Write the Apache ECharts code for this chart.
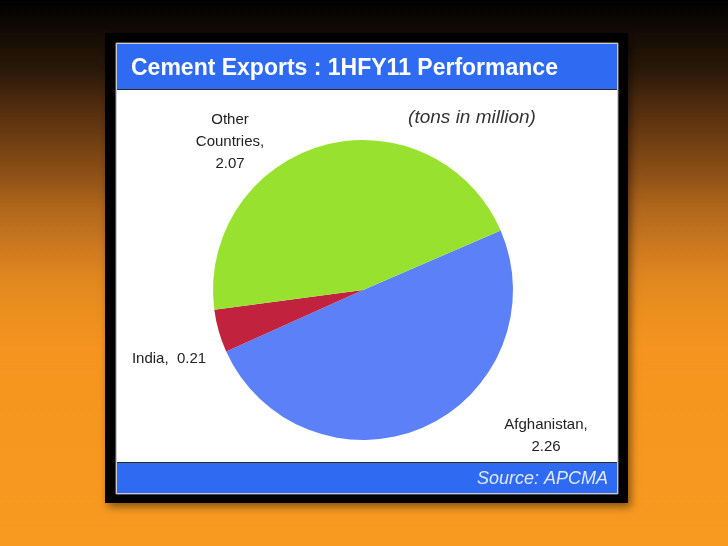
<!DOCTYPE html>
<html>
<head>
<meta charset="utf-8">
<script src="https://cdn.jsdelivr.net/npm/echarts@6/dist/echarts.min.js"></script>
<style>
html,body{margin:0;padding:0;background:#000;}
#c{width:728px;height:546px;}
</style>
</head>
<body>
<div id="c"></div>
<script>
// ---- data ----
var titleText = 'Cement Exports : 1HFY11 Performance';
var unitText = '(tons in million)';
var sourceText = 'Source: APCMA';
var categories = ['Afghanistan', 'India', 'Other Countries'];
var values = [2.26, 0.21, 2.07];
var sliceColors = ['#5b80f8', '#c1233f', '#98e22f'];
var labelFormats = ['Afghanistan,\n{c}', 'India,  {c}', 'Other\nCountries,\n{c}'];

var chart = echarts.init(document.getElementById('c'), null, {renderer: 'canvas'});

var labelPos = [
  {x: 546, y: 436, align: 'center', verticalAlign: 'middle'},
  {x: 169, y: 359, align: 'center', verticalAlign: 'middle'},
  {x: 230, y: 142, align: 'center', verticalAlign: 'middle'}
];

var option = {
  animation: false,
  graphic: [
    {type: 'rect', z: 0, shape: {x: 0, y: 0, width: 728, height: 546},
      style: {fill: new echarts.graphic.LinearGradient(0, 0, 0, 1, [
        {offset: 0, color: '#000000'},
        {offset: 0.128, color: '#2a1808'},
        {offset: 0.19, color: '#4f2a0e'},
        {offset: 0.255, color: '#6e3d12'},
        {offset: 0.32, color: '#8e5016'},
        {offset: 0.38, color: '#b0661b'},
        {offset: 0.45, color: '#cc7820'},
        {offset: 0.51, color: '#e0871f'},
        {offset: 0.575, color: '#ec8f1f'},
        {offset: 0.64, color: '#f5951f'},
        {offset: 1, color: '#f89a20'}
      ])}},
    {type: 'rect', z: 1, shape: {x: 105, y: 33, width: 523, height: 470},
      style: {fill: '#000', shadowBlur: 8, shadowOffsetX: 3, shadowOffsetY: 4, shadowColor: 'rgba(0,0,0,0.45)'}},
    {type: 'rect', z: 2, shape: {x: 116, y: 43, width: 502, height: 451},
      style: {fill: '#ffffff', stroke: '#9a9a9a', lineWidth: 1}},
    {type: 'rect', z: 3, shape: {x: 117, y: 44, width: 500, height: 45},
      style: {fill: '#2f6bf2'}},
    {type: 'line', z: 3, shape: {x1: 117, y1: 89.5, x2: 617, y2: 89.5},
      style: {stroke: '#2a2a2a', lineWidth: 1}},
    {type: 'rect', z: 3, shape: {x: 117, y: 462, width: 500, height: 31},
      style: {fill: '#2f6bf2'}},
    {type: 'line', z: 3, shape: {x1: 117, y1: 462.5, x2: 617, y2: 462.5},
      style: {stroke: '#2a2a2a', lineWidth: 1}},
    {type: 'text', z: 4, x: 131, y: 69,
      style: {text: titleText, fill: '#ffffff', font: 'bold 23px "Liberation Sans", Arial, sans-serif',
        textVerticalAlign: 'middle', verticalAlign: 'middle'}},
    {type: 'text', z: 4, x: 472, y: 118,
      style: {text: unitText, fill: '#333333', font: 'italic 19px "Liberation Sans", Arial, sans-serif',
        align: 'center', verticalAlign: 'middle', textAlign: 'center', textVerticalAlign: 'middle'}},
    {type: 'text', z: 4, x: 608, y: 479,
      style: {text: sourceText, fill: '#dfe8ff', font: 'italic 18px "Liberation Sans", Arial, sans-serif',
        align: 'right', verticalAlign: 'middle', textAlign: 'right', textVerticalAlign: 'middle'}}
  ],
  series: [{
    type: 'pie',
    z: 10,
    center: [363, 290],
    radius: [0, 150],
    startAngle: 23.4,
    clockwise: true,
    avoidLabelOverlap: false,
    itemStyle: {borderWidth: 0},
    emphasis: {disabled: true},
    label: {
      show: true,
      position: 'outside',
      color: '#222222',
      fontSize: 15,
      lineHeight: 22,
      fontFamily: '"Liberation Sans", Arial, sans-serif',
      align: 'center'
    },
    labelLine: {show: false},
    labelLayout: function (p) {
      return labelPos[p.dataIndex];
    },
    data: categories.map(function (n, i) {
      return {name: n, value: values[i], itemStyle: {color: sliceColors[i]},
        label: {formatter: labelFormats[i]}};
    })
  }]
};
chart.setOption(option);
</script>
</body>
</html>
